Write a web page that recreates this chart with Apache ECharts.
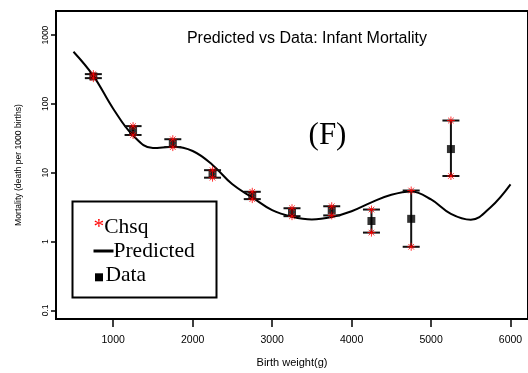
<!DOCTYPE html>
<html>
<head>
<meta charset="utf-8">
<script src="https://cdn.jsdelivr.net/npm/echarts@6/dist/echarts.min.js"></script>
<style>
  html, body { margin: 0; padding: 0; background: #fff; }
  #chart { width: 528px; height: 373px; }
</style>
</head>
<body>
<div id="chart"></div>
<script>
// Birth-weight classes (g) and observed infant mortality (deaths per 1000 births)
const birthWeight = [750, 1250, 1750, 2250, 2750, 3250, 3750, 4250, 4750, 5250];
const observed    = [251, 41.7, 26.9, 9.77, 4.73, 2.67, 2.88, 1.99, 2.14, 22.1];
// Chi-square interval bounds for each class
const chsqLower   = [237, 35.4, 23.6, 8.48, 4.14, 2.34, 2.40, 1.35, 0.84, 8.97];
const chsqUpper   = [271, 47.6, 30.7, 10.9, 5.29, 3.05, 3.26, 2.92, 5.52, 57.4];

// Fitted mortality curve
const curveWeight = [500, 750, 1000, 1250, 1500, 1750, 2000, 2250, 2500, 2750, 3000,
                     3250, 3500, 3750, 4000, 4250, 4500, 4750, 5000, 5250, 5500, 5750, 6000];
const curveRate   = [573, 256, 85.3, 34.8, 22.8, 23.8, 20.7, 13.0, 6.79, 4.38, 2.86,
                     2.30, 2.10, 2.27, 2.76, 3.72, 4.79, 5.35, 4.10, 2.53, 2.08, 3.16, 6.79];

const xTicks = [1000, 2000, 3000, 4000, 5000, 6000];
const yTicks = [0.1, 1, 10, 100, 1000];

const chart = echarts.init(document.getElementById('chart'), null, { renderer: 'canvas' });

const pair = (xs, ys) => xs.map((x, i) => [x, ys[i]]);
const chsqPoints = pair(birthWeight, chsqLower).concat(pair(birthWeight, chsqUpper));
const barRows = birthWeight.map((x, i) => [x, chsqLower[i], chsqUpper[i]]);

// asterisk glyph: a plus overlaid with a cross
const asterisk = 'path://M4,0L4,8M0,4L8,4M1.2,1.2L6.8,6.8M1.2,6.8L6.8,1.2';

const serif = '"Liberation Serif", "Times New Roman", serif';
const sans = '"Liberation Sans", Arial, sans-serif';
const legendFont = '21.5px ' + serif;

chart.setOption({
  animation: false,
  backgroundColor: '#fff',
  grid: {
    left: 56, right: -3, top: 11, bottom: 50,
    show: true, borderColor: '#000', borderWidth: 2, backgroundColor: 'transparent'
  },
  xAxis: {
    type: 'value', min: 280, max: 6220,
    name: 'Birth weight(g)', nameLocation: 'middle', nameGap: 38,
    nameTextStyle: { fontFamily: sans, fontSize: 11, color: '#000' },
    axisLine: { show: true, lineStyle: { color: '#000', width: 2 } },
    axisTick: { show: true, customValues: xTicks, length: 8, lineStyle: { color: '#000', width: 1.5 } },
    axisLabel: {
      customValues: xTicks, margin: 16, fontFamily: sans, fontSize: 10.5, color: '#000',
      formatter: v => String(v)
    },
    splitLine: { show: false }
  },
  yAxis: {
    type: 'log', logBase: 10, min: 0.075, max: 2240,
    name: 'Mortality (death per 1000 births)', nameLocation: 'middle', nameGap: 33,
    nameTextStyle: { fontFamily: sans, fontSize: 8.6, color: '#000' },
    axisLine: { show: true, lineStyle: { color: '#000', width: 2 } },
    axisTick: { show: true, customValues: yTicks, length: 5, lineStyle: { color: '#000', width: 1.5 } },
    axisLabel: {
      customValues: yTicks, rotate: 90, margin: 6, fontFamily: sans, fontSize: 8.5, color: '#000',
      formatter: v => String(v)
    },
    splitLine: { show: false }
  },
  series: [
    {
      name: 'Predicted', type: 'line', data: pair(curveWeight, curveRate),
      smooth: 0.4, showSymbol: false, symbol: 'none',
      lineStyle: { color: '#000', width: 2 }, z: 2
    },
    {
      name: 'Interval', type: 'custom', data: barRows, z: 3,
      renderItem: (params, api) => {
        const x = api.value(0);
        const lo = api.coord([x, api.value(1)]);
        const hi = api.coord([x, api.value(2)]);
        const hw = 8.5;
        const st = { stroke: '#111', lineWidth: 2 };
        return {
          type: 'group',
          children: [
            { type: 'line', shape: { x1: lo[0], y1: lo[1], x2: hi[0], y2: hi[1] }, style: st },
            { type: 'line', shape: { x1: lo[0] - hw, y1: lo[1], x2: lo[0] + hw, y2: lo[1] }, style: st },
            { type: 'line', shape: { x1: hi[0] - hw, y1: hi[1], x2: hi[0] + hw, y2: hi[1] }, style: st }
          ]
        };
      }
    },
    {
      name: 'Data', type: 'scatter', data: pair(birthWeight, observed),
      symbol: 'rect', symbolSize: 8, itemStyle: { color: '#000' }, z: 4
    },
    {
      name: 'Chsq', type: 'scatter', data: chsqPoints,
      symbol: asterisk, symbolSize: 8,
      itemStyle: { color: 'none', borderColor: '#ff0000', borderWidth: 1 }, z: 5
    }
  ],
  graphic: [
    {
      type: 'text', style: {
        text: 'Predicted vs Data: Infant Mortality', x: 307, y: 39,
        align: 'center', verticalAlign: 'middle',
        font: '16px ' + sans, fill: '#000'
      }
    },
    {
      type: 'text', style: {
        text: '(F)', x: 327.5, y: 136, align: 'center', verticalAlign: 'middle',
        font: '31px ' + serif, fill: '#000'
      }
    },
    // legend panel
    {
      type: 'rect', shape: { x: 72.5, y: 201.5, width: 144, height: 96 },
      style: { fill: '#fff', stroke: '#000', lineWidth: 2 }, z: 10
    },
    {
      type: 'text', z: 11, style: {
        text: '{r|*}Chsq', x: 93.5, y: 227, verticalAlign: 'middle',
        font: legendFont, fill: '#000',
        rich: { r: { fill: '#ff0000', font: legendFont } }
      }
    },
    {
      type: 'rect', z: 11, shape: { x: 93.5, y: 249.5, width: 20, height: 3 },
      style: { fill: '#000' }
    },
    {
      type: 'text', z: 11, style: {
        text: 'Predicted', x: 113.5, y: 251, verticalAlign: 'middle',
        font: legendFont, fill: '#000'
      }
    },
    {
      type: 'rect', z: 11, shape: { x: 95, y: 273.3, width: 8, height: 8 },
      style: { fill: '#000' }
    },
    {
      type: 'text', z: 11, style: {
        text: 'Data', x: 105.5, y: 275.5, verticalAlign: 'middle',
        font: legendFont, fill: '#000'
      }
    }
  ]
});
</script>
</body>
</html>
